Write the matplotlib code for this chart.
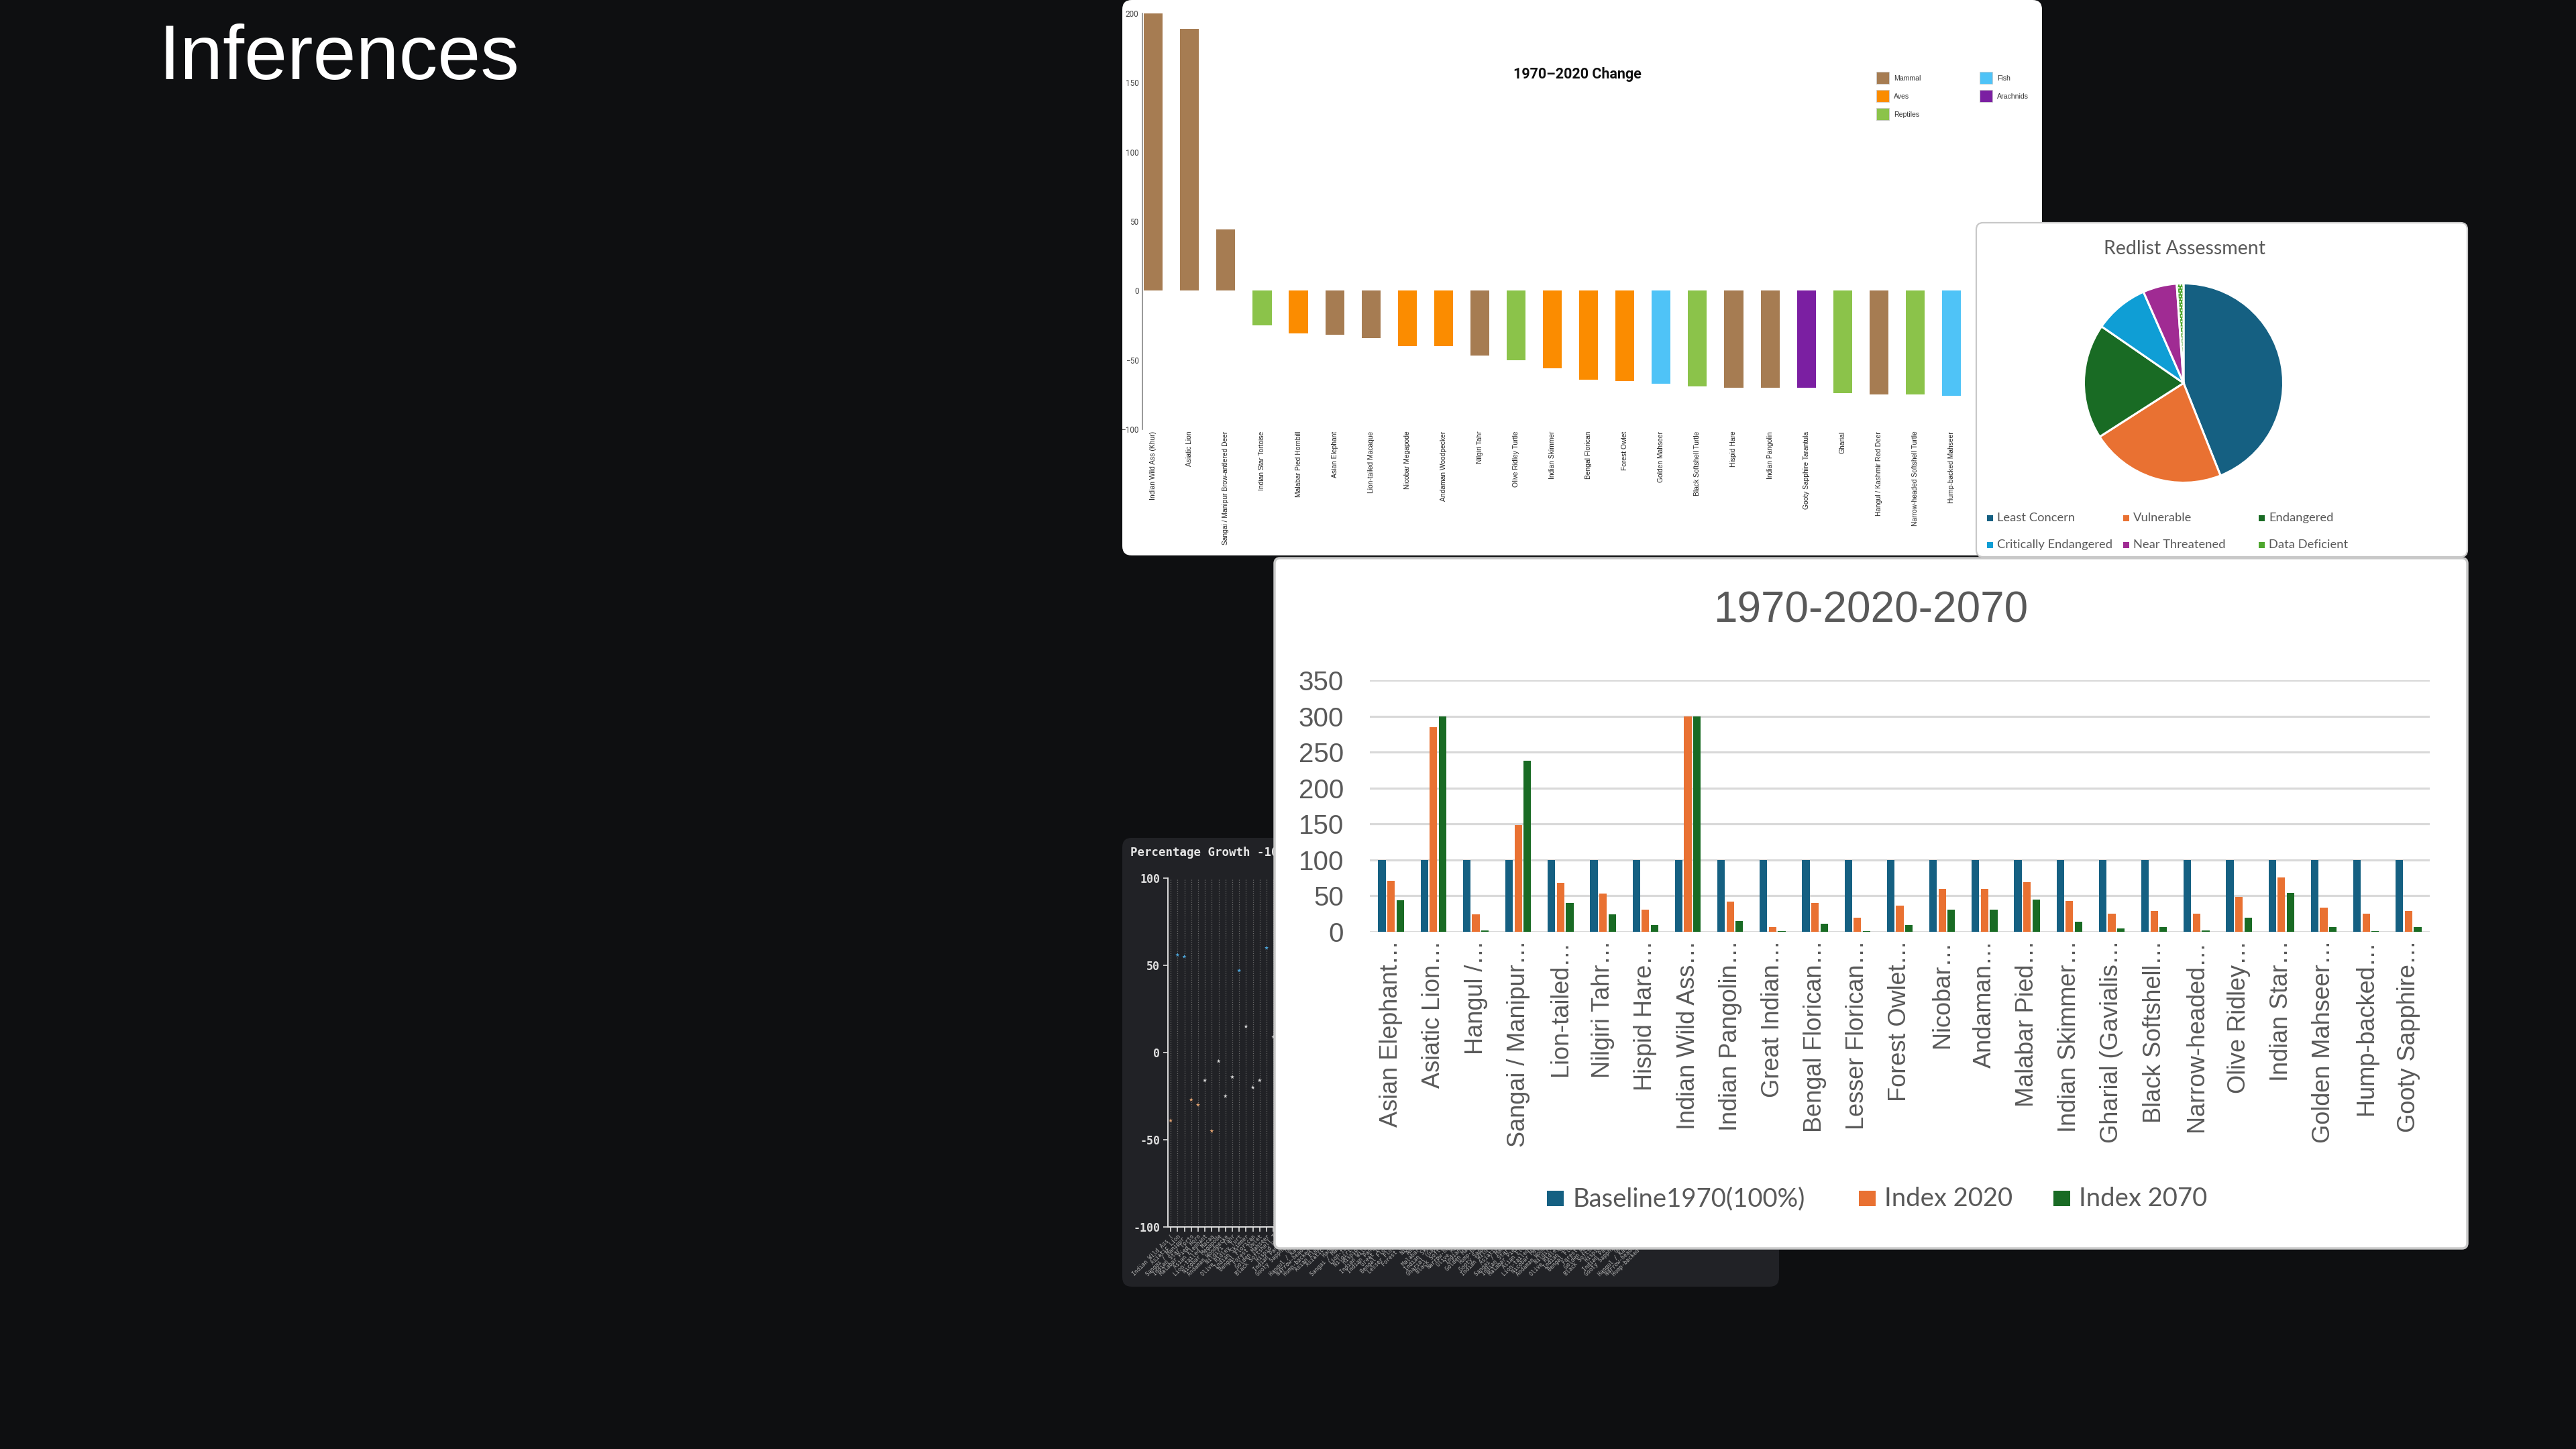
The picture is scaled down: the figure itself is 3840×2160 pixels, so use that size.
import numpy as np
import matplotlib.pyplot as plt
from matplotlib.patches import FancyBboxPatch, Rectangle

W, H = 3840, 2160
BG = '#0e0f11'

# ---- 1970-2020 change (%) by species ----
change_species = ['Indian Wild Ass (Khur)', 'Asiatic Lion', 'Sangai / Manipur Brow-antlered Deer',
                  'Indian Star Tortoise', 'Malabar Pied Hornbill', 'Asian Elephant', 'Lion-tailed Macaque',
                  'Nicobar Megapode', 'Andaman Woodpecker', 'Nilgiri Tahr', 'Olive Ridley Turtle',
                  'Indian Skimmer', 'Bengal Florican', 'Forest Owlet', 'Golden Mahseer',
                  'Black Softshell Turtle', 'Hispid Hare', 'Indian Pangolin', 'Gooty Sapphire Tarantula',
                  'Gharial', 'Hangul / Kashmir Red Deer', 'Narrow-headed Softshell Turtle', 'Hump-backed Mahseer']
change_values = [200, 189, 44, -25, -31, -32, -34, -40, -40, -47, -50, -56, -64,
                 -65, -67, -69, -70, -70, -70, -74, -75, -75, -76]
change_class = ['Mammal', 'Mammal', 'Mammal', 'Reptiles', 'Aves', 'Mammal', 'Mammal',
                'Aves', 'Aves', 'Mammal', 'Reptiles', 'Aves', 'Aves', 'Aves', 'Fish',
                'Reptiles', 'Mammal', 'Mammal', 'Arachnids', 'Reptiles', 'Mammal', 'Reptiles', 'Fish']
class_names = ['Mammal', 'Aves', 'Reptiles', 'Fish', 'Arachnids']
class_colors = ['#a67c52', '#fb8c00', '#8bc34a', '#4fc3f7', '#7b1fa2']

# ---- Redlist assessment ----
redlist_labels = ['Least Concern', 'Vulnerable', 'Endangered',
                  'Critically Endangered', 'Near Threatened', 'Data Deficient']
redlist_counts = [40, 20, 17, 8, 5, 1]
redlist_colors = ['#156082', '#e97132', '#196b24', '#0f9ed5', '#a02b93', '#4ea72e']

# ---- 1970-2020-2070 index ----
index_species = ['Asian Elephant…', 'Asiatic Lion…', 'Hangul /…', 'Sangai / Manipur…', 'Lion-tailed…',
                 'Nilgiri Tahr…', 'Hispid Hare…', 'Indian Wild Ass…', 'Indian Pangolin…', 'Great Indian…',
                 'Bengal Florican…', 'Lesser Florican…', 'Forest Owlet…', 'Nicobar…', 'Andaman…',
                 'Malabar Pied…', 'Indian Skimmer…', 'Gharial (Gavialis…', 'Black Softshell…',
                 'Narrow-headed…', 'Olive Ridley…', 'Indian Star…', 'Golden Mahseer…', 'Hump-backed…',
                 'Gooty Sapphire…']
baseline_1970 = [100] * 25
index_2020 = [71, 285, 24, 148, 68, 53, 31, 300, 42, 7, 40, 20, 36, 60, 60,
              69, 43, 25, 29, 25, 49, 76, 34, 25, 29]
index_2070 = [44, 300, 2, 238, 40, 24, 9, 300, 15, 1, 11, 1, 9, 31, 31,
              45, 14, 5, 7, 2, 20, 54, 7, 1, 7]
index_series = ['Baseline1970(100%)', 'Index 2020', 'Index 2070']
index_colors = ['#156082', '#e97132', '#196b24']

# ---- percentage growth (only the uncovered part is readable) ----
growth_values = [-39, 56, 55, -27, -30, -16, -45, -5, -25, -14, 47, 15, -20, -16, 60, 9]
growth_trend = ['down', 'up', 'up', 'down', 'down', 'flat', 'down', 'flat',
                'flat', 'flat', 'up', 'flat', 'flat', 'flat', 'up', 'flat']
trend_colors = {'down': '#e3a472', 'up': '#4aa3d8', 'flat': '#d8d8d8'}
growth_ticks = [s[:17] for s in (change_species + index_species + change_species)[:85]]

fig = plt.figure(figsize=(W / 100, H / 100), dpi=100, facecolor=BG)


def px_axes(x0, y0, x1, y1, z):
    return fig.add_axes([x0 / W, 1 - y1 / H, (x1 - x0) / W, (y1 - y0) / H], zorder=z)


def layer(z):
    ax = fig.add_axes([0, 0, 1, 1], zorder=z)
    ax.set_xlim(0, W)
    ax.set_ylim(H, 0)
    ax.set_facecolor('none')
    ax.axis('off')
    return ax


def panel(ax, x0, y0, x1, y1, fc, ec='none', lw=0, r=14):
    ax.add_patch(FancyBboxPatch((x0, y0), x1 - x0, y1 - y0,
                                boxstyle=f'round,pad=0,rounding_size={r}',
                                fc=fc, ec=ec, lw=lw))


# slide title
base = layer(0)
base.text(236, 118, 'Inferences', color='white', fontsize=83, family='Liberation Sans',
          va='baseline', ha='left')

# ---------------- dark percentage growth panel ----------------
lay = layer(1)
panel(lay, 1673, 1249, 2652, 1918, '#212226')
lay.text(1685, 1271, 'Percentage Growth -100', color='#e6e6e6', fontsize=12.5,
         family='DejaVu Sans Mono', weight='bold', va='center', ha='left')

ax = px_axes(1741, 1309, 2608, 1829, 2)
ax.set_facecolor('none')
xg = np.arange(len(growth_values))
ax.scatter(xg, growth_values, marker='*', s=22,
           c=[trend_colors[t] for t in growth_trend], linewidths=0, zorder=3)
ax.set_xlim(-0.4, 84.5)
ax.set_ylim(-100, 100)
ax.set_xticks(np.arange(len(growth_ticks)))
ax.set_xticklabels(growth_ticks, rotation=45, ha='right', rotation_mode='anchor',
                   fontsize=5.8, color='#b0b0b0', family='DejaVu Sans Mono')
ax.set_yticks([-100, -50, 0, 50, 100])
ax.set_yticklabels(['-100', '-50', '0', '50', '100'], family='DejaVu Sans Mono',
                   weight='bold', fontsize=12, color='#e0e0e0')
ax.tick_params(axis='both', colors='#e0e0e0', length=5, width=1.2)
ax.tick_params(axis='x', labelcolor='#b0b0b0', pad=2)
ax.grid(axis='x', color='#6a6a6a', linestyle=':', linewidth=0.9)
for s in ['top', 'right']:
    ax.spines[s].set_visible(False)
for s in ['left', 'bottom']:
    ax.spines[s].set_color('#e0e0e0')
    ax.spines[s].set_linewidth(1.4)

# ---------------- top change bar chart ----------------
lay = layer(3)
panel(lay, 1673, 0, 3044, 828, 'white')
lay.text(2351, 111, '1970–2020 Change', fontsize=15.5, family='Roboto', weight='bold',
         color='#111111', ha='center', va='center')
for i, (name, col) in enumerate(zip(class_names, class_colors)):
    lx = 2797 + (i // 3) * 154
    ly = 116 + (i % 3) * 27
    lay.add_patch(Rectangle((lx, ly - 9), 19, 18, fc=col, ec='#cccccc', lw=0.6))
    lay.text(lx + 26, ly + 1, name, fontsize=7.6, family='Liberation Sans',
             color='#333333', ha='left', va='center')

ax = px_axes(1703, 20, 2936, 640, 4)
ax.set_facecolor('none')
xc = np.arange(len(change_values))
ax.bar(xc, change_values, width=0.52,
       color=[class_colors[class_names.index(c)] for c in change_class])
ax.set_xlim(-0.3, 22.5)
ax.set_ylim(-100, 200)
ax.set_yticks([-100, -50, 0, 50, 100, 150, 200])
ax.tick_params(axis='y', length=0, pad=4, labelsize=8.5, labelcolor='#444444')
ax.set_xticks(xc)
ax.set_xticklabels(change_species, rotation=90, ha='center', va='top',
                   fontsize=7.4, family='Liberation Sans', color='#222222')
ax.tick_params(axis='x', length=0, pad=2)
for lab in ax.get_yticklabels():
    lab.set_family('Roboto')
for s in ['top', 'right', 'bottom']:
    ax.spines[s].set_visible(False)
ax.spines['left'].set_color('#888888')
ax.spines['left'].set_linewidth(1.2)

# ---------------- redlist pie ----------------
lay = layer(5)
panel(lay, 2946, 332, 3678, 830, 'white', ec='#c8c8c8', lw=1.6, r=10)
lay.text(3257, 371, 'Redlist Assessment', fontsize=20.5, family='Lato',
         color='#595959', ha='center', va='center')
for i, (name, col) in enumerate(zip(redlist_labels, redlist_colors)):
    lx = [2962, 3165, 3367][i % 3]
    ly = [772, 812][i // 3]
    lay.add_patch(Rectangle((lx, ly - 4.5), 8.5, 9, fc=col, ec='none',
                            hatch='....' if name == 'Data Deficient' else None))
    lay.text(lx + 15, ly, name, fontsize=13.2, family='Lato', color='#595959',
             ha='left', va='center')

ax = px_axes(3105, 421, 3405, 721, 6)
wedges, _ = ax.pie(redlist_counts, colors=redlist_colors, startangle=90, counterclock=False,
                   radius=1, wedgeprops=dict(edgecolor='white', linewidth=2.2))
wedges[-1].set_hatch('....')
ax.set_xlim(-1.01, 1.01)
ax.set_ylim(-1.01, 1.01)

# ---------------- 1970-2020-2070 grouped bars ----------------
lay = layer(7)
panel(lay, 1900, 832, 3678, 1861, 'white', ec='#c8c8c8', lw=2.5, r=8)
lay.text(2789, 911, '1970-2020-2070', fontsize=46, family='Liberation Sans',
         color='#595959', ha='center', va='center')
leg_x = [2306, 2771, 3061]
for name, col, lx in zip(index_series, index_colors, leg_x):
    lay.add_patch(Rectangle((lx, 1775), 25, 23, fc=col, ec='none'))
    lay.text(lx + 38, 1787, name, fontsize=27.5, family='Lato', color='#595959',
             ha='left', va='center')

ax = px_axes(2042, 1014, 3622, 1389, 8)
ax.set_facecolor('none')
xi = np.arange(len(index_species))
for k, (vals, col) in enumerate(zip([baseline_1970, index_2020, index_2070], index_colors)):
    ax.bar(xi + (k - 1) * 0.215, vals, width=0.175, color=col, zorder=3)
ax.set_xlim(-0.5, len(index_species) - 0.5)
ax.set_ylim(0, 350)
ax.set_yticks(np.arange(0, 351, 50))
ax.yaxis.grid(True, color='#d9d9d9', linewidth=2.3, zorder=0)
ax.set_axisbelow(True)
ax.tick_params(axis='y', length=0, pad=28, labelsize=29, labelcolor='#595959')
for lab in ax.get_yticklabels():
    lab.set_family('Liberation Sans')
ax.set_xticks(xi)
ax.set_xticklabels(index_species, rotation=90, ha='center', va='top',
                   fontsize=26, family='Liberation Sans', color='#595959')
ax.tick_params(axis='x', length=0, pad=9)
for s in ax.spines.values():
    s.set_visible(False)

fig.savefig('out.png', dpi=100, facecolor=BG)
